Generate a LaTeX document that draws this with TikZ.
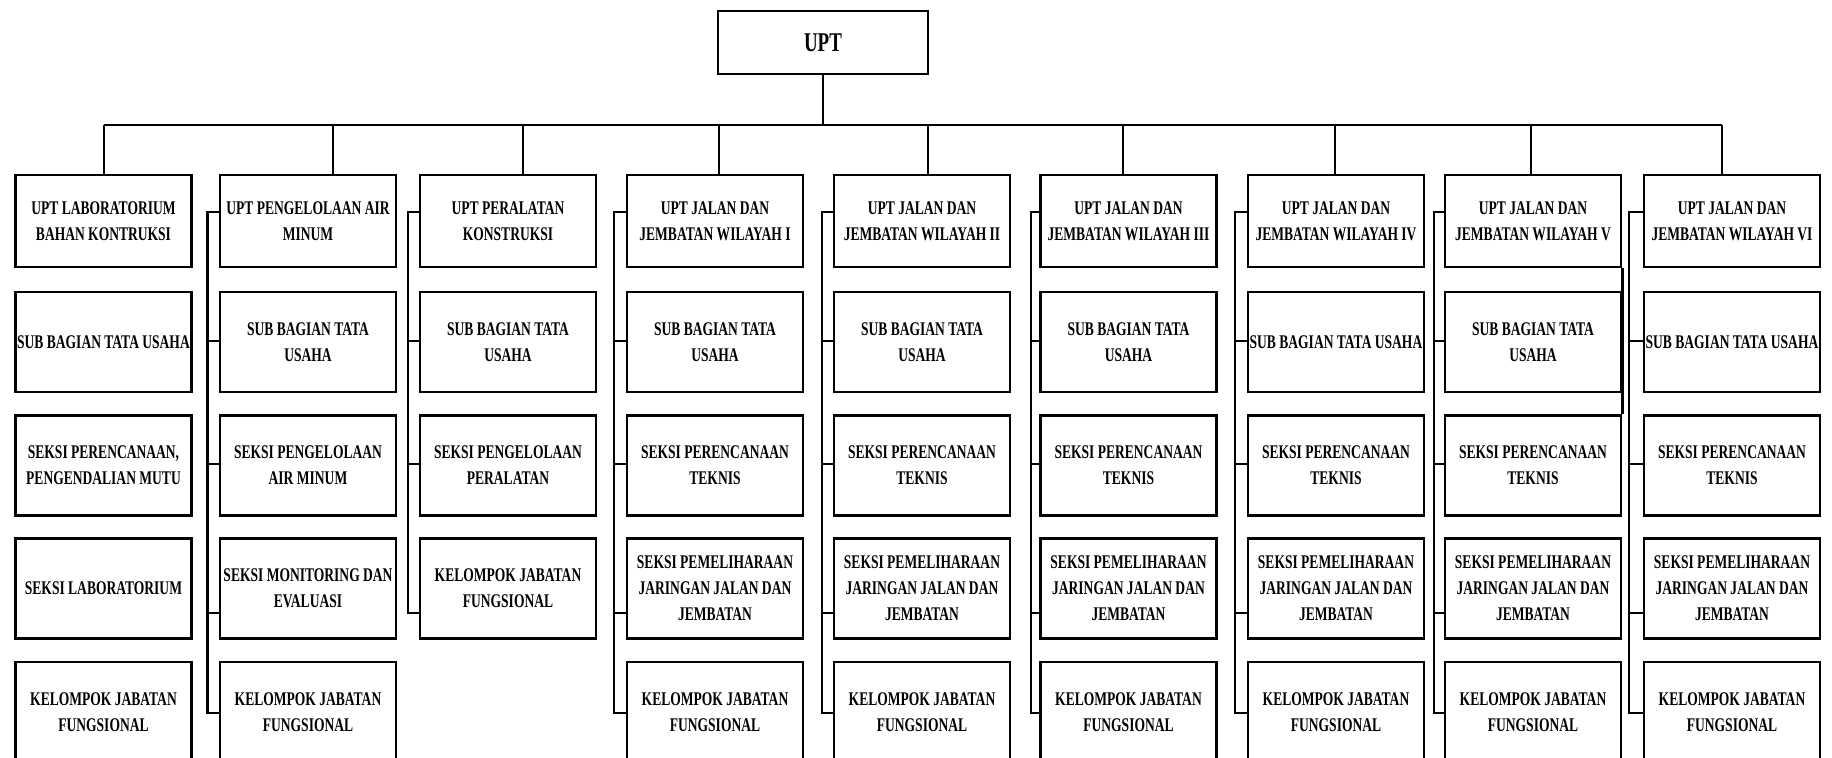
\documentclass[tikz,border=0pt]{standalone}
\usepackage{fontspec}
\setmainfont{Liberation Serif}[FakeStretch=0.7]

\begin{document}
\begin{tikzpicture}[x=0.01cm, y=-0.01cm,
  box/.style={rectangle, draw, line width=0.7pt, minimum width=1.76cm,
    minimum height=1cm, inner xsep=0.5pt, align=center,
    font=\bfseries\fontsize{5.5}{7.4}\selectfont},
  head/.style={box, minimum height=0.92cm},
  link/.style={line width=0.7pt}
]
  \useasboundingbox (0,0) rectangle (1832,758);

  % Top unit
  \node[box, minimum width=2.1cm, minimum height=0.63cm,
    font=\bfseries\fontsize{7.7}{9}\selectfont] (upt) at (823,42.5) {UPT};

  % Branch levels and bus points
  \coordinate (k1) at (0,212);
  \coordinate (k2) at (0,341);
  \coordinate (k3) at (0,464);
  \coordinate (k4) at (0,613);
  \coordinate (k5) at (0,713);
  \coordinate (d-lab) at (104,125);
  \coordinate (d-air) at (333,125);
  \coordinate (d-alat) at (523,125);
  \coordinate (d-w1) at (719,125);
  \coordinate (d-w2) at (928,125);
  \coordinate (d-w3) at (1123,125);
  \coordinate (d-w4) at (1335,125);
  \coordinate (d-w5) at (1531,125);
  \coordinate (d-w6) at (1722,125);
  \coordinate (s-air) at (207.5,0);
  \coordinate (s-alat) at (408,0);
  \coordinate (s-w1) at (614,0);
  \coordinate (s-w2) at (822,0);
  \coordinate (s-w3) at (1031,0);
  \coordinate (s-w4) at (1235,0);
  \coordinate (s-w5) at (1434,0);
  \coordinate (s-w6) at (1629,0);

  % UPT Laboratorium
  \node[head] (lab-1) at (103.5,221) {UPT LABORATORIUM\\BAHAN KONTRUKSI};
  \node[box] (lab-2) at (103.5,342) {SUB BAGIAN TATA USAHA};
  \node[box] (lab-3) at (103.5,465.5) {SEKSI PERENCANAAN,\\PENGENDALIAN MUTU};
  \node[box] (lab-4) at (103.5,588.5) {SEKSI LABORATORIUM};
  \node[box] (lab-5) at (103.5,712) {KELOMPOK JABATAN\\FUNGSIONAL};

  % UPT Pengelolaan Air Minum
  \node[head] (air-1) at (308,221) {UPT PENGELOLAAN AIR\\MINUM};
  \node[box] (air-2) at (308,342) {SUB BAGIAN TATA\\USAHA};
  \node[box] (air-3) at (308,465.5) {SEKSI PENGELOLAAN\\AIR MINUM};
  \node[box] (air-4) at (308,588.5) {SEKSI MONITORING DAN\\EVALUASI};
  \node[box] (air-5) at (308,712) {KELOMPOK JABATAN\\FUNGSIONAL};

  % UPT Peralatan
  \node[head] (alat-1) at (508,221) {UPT PERALATAN\\KONSTRUKSI};
  \node[box] (alat-2) at (508,342) {SUB BAGIAN TATA\\USAHA};
  \node[box] (alat-3) at (508,465.5) {SEKSI PENGELOLAAN\\PERALATAN};
  \node[box] (alat-4) at (508,588.5) {KELOMPOK JABATAN\\FUNGSIONAL};

  % UPT Jalan dan Jembatan, Wilayah I--VI
  \node[head] (w1-1) at (715,221) {UPT JALAN DAN\\JEMBATAN WILAYAH I};
  \node[box] (w1-2) at (715,342) {SUB BAGIAN TATA\\USAHA};
  \node[box] (w1-3) at (715,465.5) {SEKSI PERENCANAAN\\TEKNIS};
  \node[box] (w1-4) at (715,588.5) {SEKSI PEMELIHARAAN\\JARINGAN JALAN DAN\\JEMBATAN};
  \node[box] (w1-5) at (715,712) {KELOMPOK JABATAN\\FUNGSIONAL};

  \node[head] (w2-1) at (922,221) {UPT JALAN DAN\\JEMBATAN WILAYAH II};
  \node[box] (w2-2) at (922,342) {SUB BAGIAN TATA\\USAHA};
  \node[box] (w2-3) at (922,465.5) {SEKSI PERENCANAAN\\TEKNIS};
  \node[box] (w2-4) at (922,588.5) {SEKSI PEMELIHARAAN\\JARINGAN JALAN DAN\\JEMBATAN};
  \node[box] (w2-5) at (922,712) {KELOMPOK JABATAN\\FUNGSIONAL};

  \node[head] (w3-1) at (1128.5,221) {UPT JALAN DAN\\JEMBATAN WILAYAH III};
  \node[box] (w3-2) at (1128.5,342) {SUB BAGIAN TATA\\USAHA};
  \node[box] (w3-3) at (1128.5,465.5) {SEKSI PERENCANAAN\\TEKNIS};
  \node[box] (w3-4) at (1128.5,588.5) {SEKSI PEMELIHARAAN\\JARINGAN JALAN DAN\\JEMBATAN};
  \node[box] (w3-5) at (1128.5,712) {KELOMPOK JABATAN\\FUNGSIONAL};

  \node[head] (w4-1) at (1336,221) {UPT JALAN DAN\\JEMBATAN WILAYAH IV};
  \node[box] (w4-2) at (1336,342) {SUB BAGIAN TATA USAHA};
  \node[box] (w4-3) at (1336,465.5) {SEKSI PERENCANAAN\\TEKNIS};
  \node[box] (w4-4) at (1336,588.5) {SEKSI PEMELIHARAAN\\JARINGAN JALAN DAN\\JEMBATAN};
  \node[box] (w4-5) at (1336,712) {KELOMPOK JABATAN\\FUNGSIONAL};

  \node[head] (w5-1) at (1533,221) {UPT JALAN DAN\\JEMBATAN WILAYAH V};
  \node[box] (w5-2) at (1533,342) {SUB BAGIAN TATA\\USAHA};
  \node[box] (w5-3) at (1533,465.5) {SEKSI PERENCANAAN\\TEKNIS};
  \node[box] (w5-4) at (1533,588.5) {SEKSI PEMELIHARAAN\\JARINGAN JALAN DAN\\JEMBATAN};
  \node[box] (w5-5) at (1533,712) {KELOMPOK JABATAN\\FUNGSIONAL};

  \node[head] (w6-1) at (1732,221) {UPT JALAN DAN\\JEMBATAN WILAYAH VI};
  \node[box] (w6-2) at (1732,342) {SUB BAGIAN TATA USAHA};
  \node[box] (w6-3) at (1732,465.5) {SEKSI PERENCANAAN\\TEKNIS};
  \node[box] (w6-4) at (1732,588.5) {SEKSI PEMELIHARAAN\\JARINGAN JALAN DAN\\JEMBATAN};
  \node[box] (w6-5) at (1732,712) {KELOMPOK JABATAN\\FUNGSIONAL};

  % UPT down to the bus, bus down to each unit
  \draw[link] (upt) -- (upt |- d-lab);
  \draw[link] (d-lab) -- (d-w6);
  \draw[link] (d-lab) -- (d-lab |- lab-1.north);
  \draw[link] (d-air) -- (d-air |- air-1.north);
  \draw[link] (d-alat) -- (d-alat |- alat-1.north);
  \draw[link] (d-w1) -- (d-w1 |- w1-1.north);
  \draw[link] (d-w2) -- (d-w2 |- w2-1.north);
  \draw[link] (d-w3) -- (d-w3 |- w3-1.north);
  \draw[link] (d-w4) -- (d-w4 |- w4-1.north);
  \draw[link] (d-w5) -- (d-w5 |- w5-1.north);
  \draw[link] (d-w6) -- (d-w6 |- w6-1.north);

  % Spines on the left of each column
  \draw[link] (air-1.west |- k1) -| (s-air |- k5) -- (air-5.west |- k5);
  \draw[link] (s-air |- k2) -- (air-2.west |- k2) (s-air |- k3) -- (air-3.west |- k3)
    (s-air |- k4) -- (air-4.west |- k4);
  \draw[link] (alat-1.west |- k1) -| (s-alat |- k4) -- (alat-4.west |- k4);
  \draw[link] (s-alat |- k2) -- (alat-2.west |- k2) (s-alat |- k3) -- (alat-3.west |- k3);
  \draw[link] (w1-1.west |- k1) -| (s-w1 |- k5) -- (w1-5.west |- k5);
  \draw[link] (s-w1 |- k2) -- (w1-2.west |- k2) (s-w1 |- k3) -- (w1-3.west |- k3)
    (s-w1 |- k4) -- (w1-4.west |- k4);
  \draw[link] (w2-1.west |- k1) -| (s-w2 |- k5) -- (w2-5.west |- k5);
  \draw[link] (s-w2 |- k2) -- (w2-2.west |- k2) (s-w2 |- k3) -- (w2-3.west |- k3)
    (s-w2 |- k4) -- (w2-4.west |- k4);
  \draw[link] (w3-1.west |- k1) -| (s-w3 |- k5) -- (w3-5.west |- k5);
  \draw[link] (s-w3 |- k2) -- (w3-2.west |- k2) (s-w3 |- k3) -- (w3-3.west |- k3)
    (s-w3 |- k4) -- (w3-4.west |- k4);
  \draw[link] (w4-1.west |- k1) -| (s-w4 |- k5) -- (w4-5.west |- k5);
  \draw[link] (s-w4 |- k2) -- (w4-2.west |- k2) (s-w4 |- k3) -- (w4-3.west |- k3)
    (s-w4 |- k4) -- (w4-4.west |- k4);
  \draw[link] (w5-1.west |- k1) -| (s-w5 |- k5) -- (w5-5.west |- k5);
  \draw[link] (s-w5 |- k2) -- (w5-2.west |- k2) (s-w5 |- k3) -- (w5-3.west |- k3)
    (s-w5 |- k4) -- (w5-4.west |- k4);
  \draw[link] (w6-1.west |- k1) -| (s-w6 |- k5) -- (w6-5.west |- k5);
  \draw[link] (s-w6 |- k2) -- (w6-2.west |- k2) (s-w6 |- k3) -- (w6-3.west |- k3)
    (s-w6 |- k4) -- (w6-4.west |- k4);

  % stray edge on the right of Wilayah V
  \draw[link] (w5-1.south east) -- (w5-1.south east |- w5-3.north);
\end{tikzpicture}
\end{document}
